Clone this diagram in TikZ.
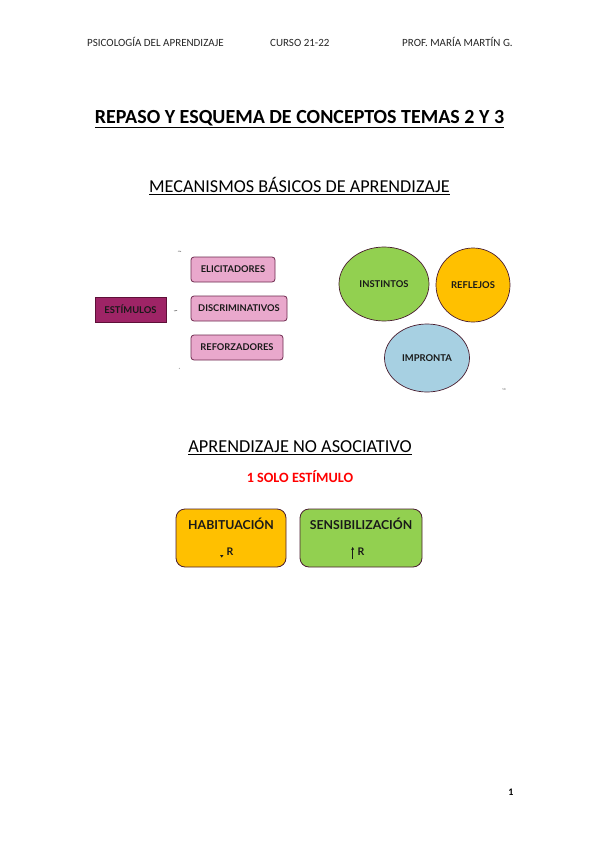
\documentclass[tikz,border=0pt]{standalone}
\usepackage{fontspec}
\setmainfont{Carlito}
\newfontfamily\boxfont{Lato}
\usetikzlibrary{shapes.geometric,arrows.meta}
\definecolor{stimfill}{HTML}{9E2466}
\definecolor{stimline}{HTML}{5E1038}
\definecolor{pinkfill}{HTML}{E9A8CC}
\definecolor{pinkline}{HTML}{6E2A4E}
\definecolor{greenfill}{HTML}{92D050}
\definecolor{orangefill}{HTML}{FFC000}
\definecolor{bluefill}{HTML}{A7D0E2}
\definecolor{edgeline}{HTML}{4A1E30}
\definecolor{redtxt}{HTML}{FF0000}
\tikzset{
  hdr/.style={font=\fontsize{11}{12}\selectfont, text=black!85, inner sep=0pt, anchor=base west},
  stimbox/.style={draw=stimline, fill=stimfill, line width=0.8pt, minimum width=71pt, minimum height=25pt, inner sep=0pt,
    font=\boxfont\bfseries\fontsize{9.4}{10}\selectfont, text=black!90},
  pinkbox/.style={draw=pinkline, fill=pinkfill, line width=0.8pt, rounded corners=3pt, minimum height=25pt, inner sep=0pt,
    font=\boxfont\bfseries\fontsize{9.3}{10}\selectfont, text=black!90},
  blob/.style={ellipse, draw=edgeline, line width=0.7pt, inner sep=0pt, font=\boxfont\bfseries\fontsize{9.4}{10}\selectfont, text=black!90},
  bigbox/.style={draw=edgeline, line width=0.8pt, rounded corners=9pt, minimum width=110pt, minimum height=58pt, inner sep=0pt},
  boxlbl/.style={font=\boxfont\bfseries\fontsize{12.3}{14}\selectfont, text=black!90, inner sep=0pt},
  tick/.style={line width=0.5pt, black!70}
}
\begin{document}
\begin{tikzpicture}[x=1pt,y=-1pt]
\useasboundingbox[fill=white] (0,0) rectangle (599,848);
% header
\node[hdr] (h1) at (87,46.5) {PSICOLOGÍA DEL APRENDIZAJE};
\node[hdr] (h2) at (270,46.5) {CURSO 21-22};
\node[hdr] (h3) at (402,46.5) {PROF. MARÍA MARTÍN G.};
% titles
\node[inner sep=0pt, font=\bfseries\fontsize{20}{23}\selectfont] (title) at (299.5,119) {\underline{REPASO Y ESQUEMA DE CONCEPTOS TEMAS 2 Y 3}};
\node[inner sep=0pt, font=\fontsize{18.2}{21}\selectfont] (sub1) at (299.5,186) {\underline{MECANISMOS BÁSICOS DE APRENDIZAJE}};
% stimuli
\node[stimbox] (estim) at (130.5,309.5) {ESTÍMULOS};
\node[pinkbox, minimum width=84pt] (elic) at (233,269.5) {ELICITADORES};
\node[pinkbox, minimum width=96pt] (disc) at (239,308.5) {DISCRIMINATIVOS};
\node[pinkbox, minimum width=92pt] (refo) at (237,347.5) {REFORZADORES};
\coordinate (t1) at (178,251);
\coordinate (t2) at (174,311);
\coordinate (t3) at (179,368);
\draw[tick] (t1) -- ++(3,0.3);
\draw[tick] (t2) -- ++(3,-0.5);
\draw[tick] (t3) -- ++(0.5,0.5);
% ellipses
\node[blob, fill=greenfill, minimum width=90pt, minimum height=74pt] (inst) at (384,284) {INSTINTOS};
\node[blob, fill=orangefill, minimum width=74pt, minimum height=74pt] (refl) at (473,285) {REFLEJOS};
\node[blob, fill=bluefill, minimum width=85pt, minimum height=68pt] (impr) at (427,358) {IMPRONTA};
\node[inner sep=0pt, font=\fontsize{3}{3}\selectfont, text=black!60] (pg58) at (504,389) {58};
% no asociativo
\node[inner sep=0pt, font=\fontsize{18.3}{21}\selectfont] (sub2) at (300,448) {\underline{APRENDIZAJE NO ASOCIATIVO}};
\node[inner sep=0pt, font=\bfseries\fontsize{14.2}{16}\selectfont, text=redtxt] (solo) at (300,477) {1 SOLO ESTÍMULO};
\node[bigbox, fill=orangefill] (hab) at (231,538) {};
\node[bigbox, fill=greenfill, minimum width=122pt] (sens) at (361,538) {};
\node[boxlbl] (habl) at (231,524) {HABITUACIÓN};
\node[boxlbl] (sensl) at (361,524) {SENSIBILIZACIÓN};
\node[boxlbl, font=\boxfont\bfseries\fontsize{10.5}{11}\selectfont] (habr) at (230,551.5) {R};
\fill[black!90] (220,555) -- (223.5,555) -- (221.75,557.5) -- cycle;
\node[boxlbl, font=\boxfont\bfseries\fontsize{10.5}{11}\selectfont] (sensr) at (361,552) {R};
\draw[line width=0.8pt, -{Stealth[length=3pt,width=3pt]}, black!90] (352.7,558.5) -- (352.7,547);
% page number
\node[inner sep=0pt, font=\bfseries\fontsize{10}{11}\selectfont] (pnum) at (511,792) {1};
\end{tikzpicture}
\end{document}
